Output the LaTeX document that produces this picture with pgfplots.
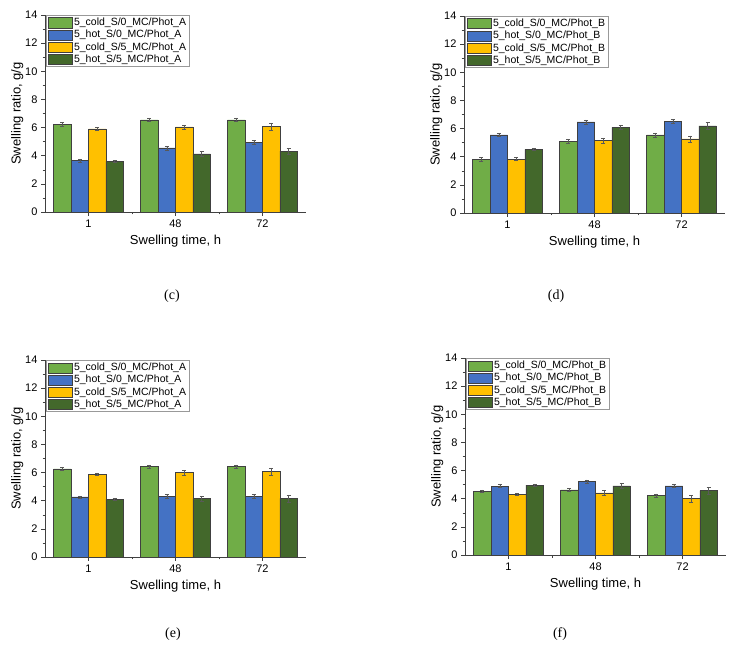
\documentclass[border=0pt]{standalone}
\usepackage{fontspec}
\setmainfont{Liberation Sans}
\newfontfamily\serifpanel{Liberation Serif}
\usepackage{pgfplots}
\pgfplotsset{compat=1.18}

\definecolor{cgreen}{HTML}{70AD47}
\definecolor{cblue}{HTML}{4472C4}
\definecolor{cyellow}{HTML}{FFC000}
\definecolor{cdark}{HTML}{43682B}

\pgfplotsset{
  panel/.style={
    scale only axis, width=261pt, height=197pt,
    ybar, bar width=0.2,
    xmin=-0.5, xmax=2.5, ymin=0, ymax=14,
    xtick={0,1,2}, xticklabels={1,48,72}, minor xtick={0.5,1.5},
    ytick={0,2,...,14}, minor ytick={1,3,...,13},
    axis lines*=left, axis line style={black!75, line width=0.6pt},
    tick align=outside, major tick length=4pt, minor tick length=2.5pt,
    tick style={black!75, line width=0.5pt},
    /pgf/number format/assume math mode=true,
    tick label style={font=\fontsize{11}{12}\selectfont},
    xlabel={Swelling time, h}, ylabel={Swelling ratio, g/g},
    ylabel shift=-5pt, xlabel shift=1pt,
    label style={font=\fontsize{13}{15}\selectfont},
    legend style={at={(0.005,1)}, anchor=north west, draw=black!40,
      font=\fontsize{10.5}{12.5}\selectfont, inner sep=1pt, row sep=-1pt},
    legend cell align=left,
    error bars/y dir=both, error bars/y explicit,
    error bars/error bar style={black!65, line width=0.4pt},
    error bars/error mark options={rotate=90, mark size=2pt, black!65, line width=0.4pt},
  },
  mybar/.style={draw=black!75, line width=0.5pt,
    legend image code/.code={\draw[##1, draw=black!75] (0pt,-5pt) rectangle (24pt,5pt);}},
  s1/.style={mybar, fill=cgreen, bar shift=-0.3},
  s2/.style={mybar, fill=cblue, bar shift=-0.1},
  s3/.style={mybar, fill=cyellow, bar shift=0.1},
  s4/.style={mybar, fill=cdark, bar shift=0.3},
}

\begin{document}
\begin{tikzpicture}
\useasboundingbox (0,0) rectangle (739pt,656pt);

% (c)
\begin{axis}[panel, at={(45pt,444pt)}, anchor=south west]
  \addplot[s1] coordinates {(0,6.25) +- (0,0.12) (1,6.55) +- (0,0.13) (2,6.55) +- (0,0.13)};
  \addplot[s2] coordinates {(0,3.65) +- (0,0.10) (1,4.55) +- (0,0.15) (2,4.97) +- (0,0.14)};
  \addplot[s3] coordinates {(0,5.90) +- (0,0.10) (1,6.05) +- (0,0.15) (2,6.08) +- (0,0.25)};
  \addplot[s4] coordinates {(0,3.60) +- (0,0.08) (1,4.13) +- (0,0.17) (2,4.33) +- (0,0.20)};
  \legend{5\_cold\_S/0\_MC/Phot\_A, 5\_hot\_S/0\_MC/Phot\_A, 5\_cold\_S/5\_MC/Phot\_A, 5\_hot\_S/5\_MC/Phot\_A}
\end{axis}

% (d)
\begin{axis}[panel, at={(464pt,443pt)}, anchor=south west]
  \addplot[s1] coordinates {(0,3.80) +- (0,0.15) (1,5.10) +- (0,0.15) (2,5.55) +- (0,0.15)};
  \addplot[s2] coordinates {(0,5.55) +- (0,0.12) (1,6.47) +- (0,0.15) (2,6.52) +- (0,0.12)};
  \addplot[s3] coordinates {(0,3.83) +- (0,0.10) (1,5.15) +- (0,0.18) (2,5.27) +- (0,0.22)};
  \addplot[s4] coordinates {(0,4.53) +- (0,0.08) (1,6.08) +- (0,0.15) (2,6.20) +- (0,0.25)};
  \legend{5\_cold\_S/0\_MC/Phot\_B, 5\_hot\_S/0\_MC/Phot\_B, 5\_cold\_S/5\_MC/Phot\_B, 5\_hot\_S/5\_MC/Phot\_B}
\end{axis}

% (e)
\begin{axis}[panel, at={(45pt,99pt)}, anchor=south west]
  \addplot[s1] coordinates {(0,6.27) +- (0,0.13) (1,6.42) +- (0,0.12) (2,6.42) +- (0,0.12)};
  \addplot[s2] coordinates {(0,4.27) +- (0,0.08) (1,4.30) +- (0,0.13) (2,4.30) +- (0,0.13)};
  \addplot[s3] coordinates {(0,5.88) +- (0,0.10) (1,6.00) +- (0,0.18) (2,6.08) +- (0,0.25)};
  \addplot[s4] coordinates {(0,4.10) +- (0,0.08) (1,4.15) +- (0,0.15) (2,4.17) +- (0,0.25)};
  \legend{5\_cold\_S/0\_MC/Phot\_A, 5\_hot\_S/0\_MC/Phot\_A, 5\_cold\_S/5\_MC/Phot\_A, 5\_hot\_S/5\_MC/Phot\_A}
\end{axis}

% (f)
\begin{axis}[panel, at={(465pt,101pt)}, anchor=south west]
  \addplot[s1] coordinates {(0,4.53) +- (0,0.10) (1,4.63) +- (0,0.13) (2,4.22) +- (0,0.13)};
  \addplot[s2] coordinates {(0,4.90) +- (0,0.10) (1,5.22) +- (0,0.13) (2,4.92) +- (0,0.13)};
  \addplot[s3] coordinates {(0,4.30) +- (0,0.08) (1,4.42) +- (0,0.15) (2,4.00) +- (0,0.25)};
  \addplot[s4] coordinates {(0,4.97) +- (0,0.08) (1,4.92) +- (0,0.15) (2,4.57) +- (0,0.22)};
  \legend{5\_cold\_S/0\_MC/Phot\_B, 5\_hot\_S/0\_MC/Phot\_B, 5\_cold\_S/5\_MC/Phot\_B, 5\_hot\_S/5\_MC/Phot\_B}
\end{axis}

\node[font=\serifpanel\fontsize{14}{16}\selectfont] at (172pt,360pt) {(c)};
\node[font=\serifpanel\fontsize{14}{16}\selectfont] at (556pt,360pt) {(d)};
\node[font=\serifpanel\fontsize{14}{16}\selectfont] at (173pt,22pt) {(e)};
\node[font=\serifpanel\fontsize{14}{16}\selectfont] at (560pt,22pt) {(f)};
\end{tikzpicture}
\end{document}
